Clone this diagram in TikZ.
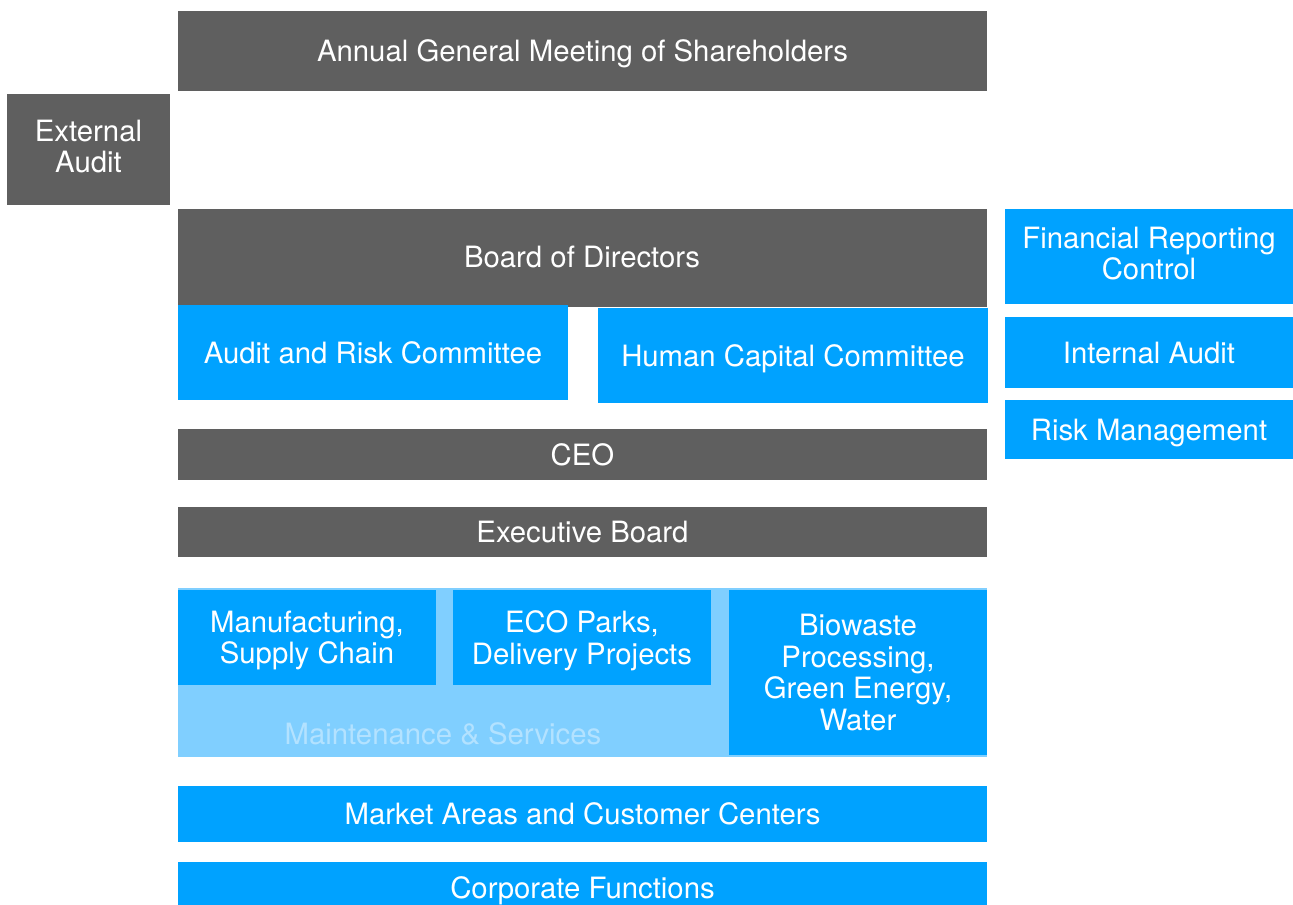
\documentclass[tikz,border=0pt]{standalone}
\usepackage{fontspec}
\setmainfont{TeX Gyre Heros}
\definecolor{darkbox}{HTML}{5F5F5F}
\definecolor{bluebox}{HTML}{00A2FF}
\definecolor{paleblue}{HTML}{80CFFF}
\definecolor{paletext}{HTML}{B3E2FF}
% box from (x1,y1) to (x2,y2) in pixel units
\newcommand\orgbox[7]{%
  \node[#2, anchor=north west, minimum width={(#5-#3)*0.75pt},
        minimum height={(#6-#4)*0.75pt}] (#1) at (#3,#4) {#7};}
\begin{document}
\begin{tikzpicture}[x=0.75pt,y=-0.75pt,
  base/.style={inner sep=0pt, outer sep=0pt, text=white, align=center,
               font=\fontsize{22}{23.6}\selectfont, text depth=0pt},
  oneline/.style={text height=15.9pt},
  greybox/.style={base, fill=darkbox},
  bluecell/.style={base, fill=bluebox},
  paleband/.style={base, fill=paleblue}]
\useasboundingbox (0,0) rectangle (1293,905);

\orgbox{agm}{greybox,oneline}{178}{11}{987}{91}{Annual General Meeting of Shareholders}
\orgbox{extaudit}{greybox,text depth=4.5pt}{7}{94}{170}{205}{External\\Audit}
\orgbox{board}{greybox}{178}{209}{987}{307}{}
\node[base,oneline] (boardlbl) at (582,257) {Board of Directors};
\orgbox{arc}{bluecell,oneline}{178}{305}{568}{400}{Audit and Risk Committee}
\orgbox{hcc}{bluecell,oneline}{598}{308}{988}{403}{Human Capital Committee}

\orgbox{frc}{bluecell,text depth=4.5pt}{1005}{209}{1293}{304}{Financial Reporting\\Control}
\orgbox{intaudit}{bluecell,oneline}{1005}{317}{1293}{388}{Internal Audit}
\orgbox{risk}{bluecell,oneline}{1005}{400}{1293}{459}{Risk Management}

\orgbox{ceo}{greybox,oneline}{178}{429}{987}{480}{CEO}
\orgbox{exec}{greybox,oneline}{178}{507}{987}{557}{Executive Board}

\orgbox{maint}{paleband}{178}{588}{987}{757}{}
\node[base, oneline, text=paletext] (maintlbl) at (443,734) {Maintenance \& Services};
\orgbox{manuf}{bluecell}{178}{590}{436}{685}{Manufacturing,\\Supply Chain}
\orgbox{eco}{bluecell}{453}{590}{711}{685}{ECO Parks,\\Delivery Projects}
\orgbox{bio}{bluecell}{729}{590}{987}{755}{Biowaste\\Processing,\\Green Energy,\\Water}

\orgbox{market}{bluecell,oneline}{178}{786}{987}{842}{Market Areas and Customer Centers}
\orgbox{corp}{bluecell,oneline}{178}{862}{987}{914}{Corporate Functions}
\end{tikzpicture}
\end{document}
